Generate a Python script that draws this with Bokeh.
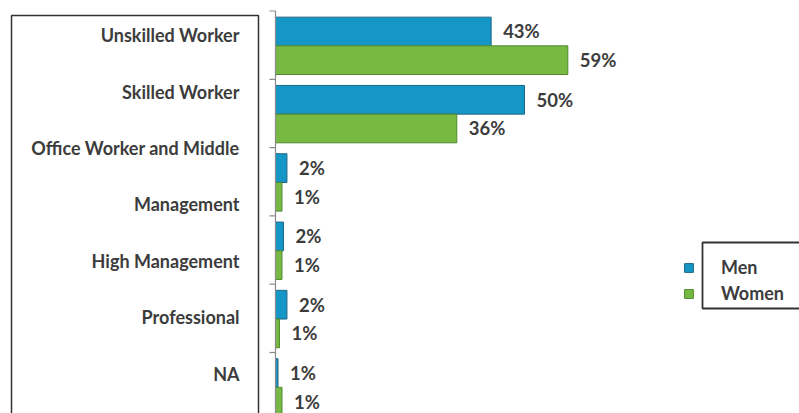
from bokeh.plotting import figure
from bokeh.models import Range1d, ColumnDataSource, Legend, LegendItem
from bokeh.core.properties import value
from bokeh.embed import file_html
from bokeh.resources import INLINE
import math

# ---- data ----
categories = ["Unskilled Worker", "Skilled Worker", "Office Worker and Middle Management",
              "High Management", "Professional", "NA"]
men = [43.3, 50.0, 2.3, 1.6, 2.3, 0.5]
women = [58.7, 36.4, 1.3, 1.3, 0.8, 1.3]
men_labels = ["43%", "50%", "2%", "2%", "2%", "1%"]
women_labels = ["59%", "36%", "1%", "1%", "1%", "1%"]
series_names = ["Men", "Women"]

BLUE, BLUE_EDGE = "#1496c6", "#1f6687"
GREEN, GREEN_EDGE = "#78b943", "#4f8a2c"
TXT = "#3c3c3c"
FONT = value("Lato")

W, H = 799, 413

p = figure(width=W, height=H, output_backend="svg", toolbar_location=None,
           x_axis_location=None, y_axis_location=None, min_border=0,
           x_range=Range1d(-55.22, 105.22), y_range=Range1d(5.893, -0.1537))
p.outline_line_color = None
p.xgrid.visible = False
p.ygrid.visible = False
p.background_fill_color = "white"
p.border_fill_color = "white"
p.extra_x_ranges = {"px": Range1d(0, W)}
p.extra_y_ranges = {"px": Range1d(H, 0), "lines": Range1d(6.710, -0.621)}

n = len(categories)
idx = list(range(n))
src = ColumnDataSource(dict(
    ym=[i + 0.30 for i in idx], yw=[i + 0.72 for i in idx],
    men=men, women=women, ml=men_labels, wl=women_labels))

rm = p.hbar(y="ym", left=0, right="men", height=0.42, source=src,
            fill_color=BLUE, line_color=BLUE_EDGE, line_width=1)
rw = p.hbar(y="yw", left=0, right="women", height=0.42, source=src,
            fill_color=GREEN, line_color=GREEN_EDGE, line_width=1)

# value labels
for col, ycol, lab in (("men", "ym", "ml"), ("women", "yw", "wl")):
    p.text(x=col, y=ycol, text=lab, source=src,
           x_offset=12, text_align="left", text_baseline="middle",
           text_font=FONT, text_font_style="bold", text_font_size="18.5px",
           text_color=TXT)

# vertical axis line and category ticks
p.segment(x0=[0], y0=[0], x1=[0], y1=[n], line_color="#8a8a8a", line_width=1.2)
p.ray(x=[0] * n, y=list(range(n)), length=6, length_units="screen", angle=math.pi,
      line_color="#8a8a8a", line_width=1.2)

# category text box (labels wrapped as in the text box)
lines = []
for c in categories:
    if len(c) > 24:
        a, b = c.rsplit(" ", 1)
        lines += [a, b]
    else:
        lines.append(c)
p.text(x=[0] * len(lines), y=list(range(len(lines))), text=lines, y_range_name="lines",
       x_offset=-36, text_align="right", text_baseline="middle",
       text_font=FONT, text_font_style="bold", text_font_size="18px", text_color=TXT)
p.quad(left=[11], right=[258], top=[15], bottom=[440], x_range_name="px", y_range_name="px",
       fill_color=None, line_color="#333333", line_width=1.5)

# legend frame
p.quad(left=[702], right=[820], top=[242], bottom=[308], x_range_name="px", y_range_name="px",
       fill_color=None, line_color="#333333", line_width=1.8)

legend = Legend(items=[LegendItem(label=series_names[0], renderers=[rm]),
                       LegendItem(label=series_names[1], renderers=[rw])],
                location=(683, 109), orientation="vertical",
                border_line_alpha=0, background_fill_alpha=0, padding=0, margin=0,
                spacing=4, glyph_width=11, glyph_height=11, label_standoff=27,
                label_height=21, label_text_font="Lato", label_text_font_style="bold",
                label_text_font_size="18px", label_text_color=TXT)
p.add_layout(legend)

open("out.html", "w").write(file_html(p, INLINE))
